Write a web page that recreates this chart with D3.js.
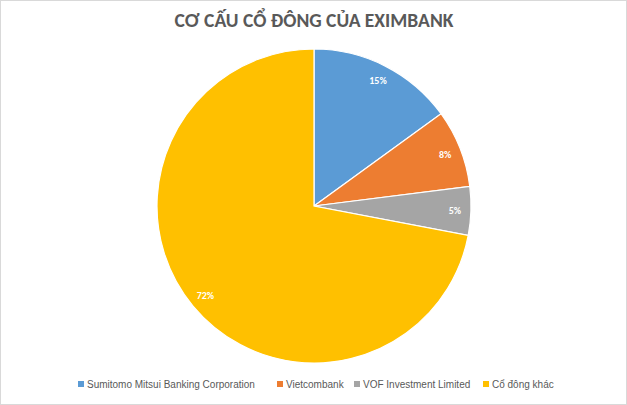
<!DOCTYPE html>
<html>
<head>
<meta charset="utf-8">
<script src="https://cdn.jsdelivr.net/npm/d3@7"></script>
<style>
  body { margin: 0; background: #fff; }
  svg { display: block; font-family: Calibri, Carlito, Lato, "Liberation Sans", sans-serif; }
</style>
</head>
<body>
<svg id="chart" width="627" height="405"></svg>
<script>
var categories = ["Sumitomo Mitsui Banking Corporation", "Vietcombank", "VOF Investment Limited", "Cổ đông khác"];
var shares = [15, 8, 5, 72];
var colors = ["#5b9bd5", "#ed7d31", "#a5a5a5", "#ffc000"];

var svg = d3.select("#chart");
svg.append("rect").attr("x", 0.5).attr("y", 0.5).attr("width", 626).attr("height", 404)
  .attr("fill", "#fff").attr("stroke", "#d9d9d9");

svg.append("text").attr("x", 314).attr("y", 27).attr("text-anchor", "middle")
  .attr("font-size", 19.5).attr("font-weight", "bold").attr("fill", "#595959")
  .text("CƠ CẤU CỔ ĐÔNG CỦA EXIMBANK");

var data = categories.map(function(c, i) { return {name: c, value: shares[i], color: colors[i]}; });
var pie = d3.pie().sort(null).value(function(d) { return d.value; });
var r = 157;
var arc = d3.arc().innerRadius(0).outerRadius(r);
var labelArc = d3.arc().innerRadius(141).outerRadius(141);

var g = svg.append("g").attr("transform", "translate(314,206)");
var arcs = pie(data);
g.selectAll("path").data(arcs).enter().append("path")
  .attr("d", arc).attr("fill", function(d) { return d.data.color; })
  .attr("stroke", "#fff").attr("stroke-width", 1.2);

g.selectAll("text").data(arcs).enter().append("text")
  .attr("transform", function(d) { return "translate(" + labelArc.centroid(d) + ")"; })
  .attr("text-anchor", "middle").attr("dy", "0.35em")
  .attr("font-size", 10).attr("font-weight", "bold").attr("fill", "#fff")
  .text(function(d) { return d.data.value + "%"; });

var legendX = [78, 277, 354, 483];
var leg = svg.append("g").selectAll("g").data(data).enter().append("g")
  .attr("transform", function(d, i) { return "translate(" + legendX[i] + ",384)"; });
leg.append("rect").attr("x", 0).attr("y", -3).attr("width", 6).attr("height", 6)
  .attr("fill", function(d) { return d.color; });
leg.append("text").attr("x", 9).attr("dy", "0.35em").attr("font-size", 10).attr("fill", "#595959")
  .attr("font-family", "'Liberation Sans', Arial, sans-serif")
  .text(function(d) { return d.name; });
</script>
</body>
</html>
